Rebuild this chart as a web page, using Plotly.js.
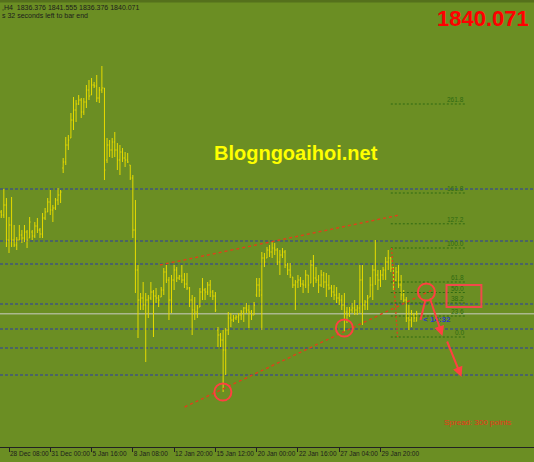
<!DOCTYPE html>
<html>
<head>
<meta charset="utf-8">
<script src="https://cdn.plot.ly/plotly-3.0.1.min.js"></script>
<style>
html,body{margin:0;padding:0;background:#6b8e23;}
#chart{width:534px;height:462px;}
</style>
</head>
<body>
<div id="chart"></div>
<script>
// ---- bar data (H4 bars) ----
const firstBar = -3, lastBar = 158;
const openP = [
1891,1889.5,1894.5,1877,1884.5,1877,1874.5,1877,1879.5,1878,1881,1878,1881,1879,1884,1882,1880,1888,1891,1896,1892,1893,1897,1899.5,
1913,1916,1924.5,1928,1937,1942,1945,1947,1941,1946,1952,1949.5,1954.5,1954,1948,1952,1953,
1917,1924.5,1922,1926,1922,1917,1921,1918,1917,1914.5,
1908,1882,1862,1847,1848,1844.5,1847,1848,1851,1849,
1848,1848.5,1852,1861,1857,1847,1857,1862,1858,1859,
1857,1855,1853,1847,1842,1841,1843.5,1851,1852,1851,
1854.5,1851,1849,1832,1829.5,1827,1822,1832,1838,1837,
1838,1838.5,1839.5,1841,1843,1842,1841,1839.5,1849.5,1854.5,
1849.5,1868,1868,1872,1871,1873,1872,1866,1869.5,1871,
1864.5,1862,1858.5,1854.5,1856,1857,1855,1854.5,1859.5,1855.5,
1864.5,1858,1857,1854.5,1859.5,1856,1854.5,1853,1851,1849.5,
1848,1847,1844.5,1841,1839.5,1842,1843,1842,1843,1857,
1844.5,1846,1848.5,1854.5,1862,1859.5,1857,1859.5,1862,1866,
1868,1863,1857,1861,1854.5,1849.5,1847,1838,1837,1839.5,1836.376];
const highP = [
1892,1902.5,1898,1888.5,1898.5,1884.5,1878.5,1884.5,1882,1884.5,1882,1888.5,1882,1886,1888,1883,1890.5,1893,1898,1902,1894.5,1898,1903,1902,
1918,1928.5,1929.5,1940.5,1948.5,1947,1949.5,1948,1948,1954.5,1957,1958,1956,1959.5,1953.5,1964,1953,
1928,1927,1928,1931,1925.5,1924.5,1923,1921,1920.5,1914.5,
1909.5,1897,1864.5,1850.5,1856,1850.5,1849.5,1856,1852,1853,
1849.5,1853.5,1863,1864.5,1858.5,1859.5,1864.5,1863.5,1859.5,1864.5,
1860.5,1860.5,1853.5,1849.5,1848.5,1844.5,1853,1858,1853,1856,
1857,1852,1851,1833.5,1830.5,1832,1833,1841,1840.5,1839.5,
1839.5,1840.5,1842,1843.5,1845.5,1844.5,1842,1846,1858,1858,
1871,1870.5,1873.5,1874.5,1876,1875.5,1873,1872,1873,1872,
1865.5,1865.5,1858.5,1857,1859.5,1858.5,1857,1862,1859.5,1867,
1869.5,1863.5,1859.5,1862,1861,1860.5,1859.5,1854.5,1854.5,1853.5,
1850.5,1849.5,1850.5,1843.5,1843.5,1845.5,1847,1844.5,1864.5,1864.5,
1847,1849.5,1858.5,1864.5,1877,1862,1862,1863.5,1868.5,1872,
1868.5,1863.5,1863.5,1864.5,1859.5,1852,1848.5,1844.5,1842,1840.5,1841.555];
const lowP = [
1888,1888,1873.5,1870.5,1873.5,1873.5,1872,1877,1875.5,1876,1873,1878,1877,1878,1880.5,1878,1878,1887,1891,1889.5,1886,1892,1894.5,1895.5,
1910.5,1914.5,1922,1928,1932,1936,1944.5,1938,1939.5,1943,1947,1949.5,1953,1946,1945.5,1950.5,1907,
1915.5,1918.5,1918,1918.5,1912,1909.5,1916,1913.5,1915.5,1907,
1878,1850.5,1828,1842,1842,1816,1838,1847,1828.5,1845.5,
1843.5,1848.5,1849.5,1855.5,1837,1840.5,1852,1856,1857,1855.5,
1853,1852,1843.5,1829.5,1837,1838,1843.5,1847,1847,1849.5,
1848.5,1847,1841,1823.5,1823.5,1801,1809.5,1829.5,1833.5,1836,
1837,1835.5,1837,1836,1840.5,1833,1837,1839.5,1848.5,1848.5,
1832,1863.5,1868,1868.5,1868,1869.5,1864.5,1859.5,1868,1863,
1859.5,1858,1853,1842,1853,1853.5,1850.5,1853,1850.5,1855.5,
1853.5,1855.5,1850.5,1853.5,1853,1848.5,1852,1848.5,1847,1845.5,
1844.5,1842,1831,1835.5,1838.5,1840.5,1839.5,1839.5,1840.5,1834.5,
1842,1842,1848.5,1847,1854.5,1852,1853.5,1857,1857,1862,
1861,1852,1856,1853,1847,1845.5,1836,1832,1833.5,1836,1836.376];
const closeP = [
1889.5,1894.5,1877,1884.5,1877,1874.5,1877,1879.5,1878,1881,1877,1886,1879,1884,1882,1880,1888,1891,1896,1892,1893,1897,1899.5,1901,
1916,1924.5,1927,1937,1942,1945,1947,1941,1946,1952,1949,1954.5,1954,1948,1952,1953,1912,
1924.5,1922,1926,1922,1917,1921,1918,1917,1916,1908,
1882,1862,1847,1848,1844.5,1847,1848,1851,1849,1848,
1847,1852,1861,1857,1847,1857,1862,1858,1859,1857,
1855,1853,1847,1842,1841,1843,1851,1852,1851,1854.5,
1851,1849,1842,1829.5,1827,1822,1832,1838,1837,1838,
1838.5,1839.5,1841,1843,1842,1841,1839.5,1844.5,1854.5,1852,
1868,1866,1872,1871,1873,1872,1866,1869.5,1871,1864.5,
1862,1859.5,1854.5,1856,1857,1855,1854.5,1859.5,1854.5,1864.5,
1858,1857,1854.5,1859.5,1856,1854.5,1853,1851,1849.5,1848,
1847,1844.5,1841,1839.5,1842,1843,1842,1843,1857,1844.5,
1846,1848,1854.5,1862,1859.5,1857,1859.5,1862,1866,1868,
1863,1857,1861,1854.5,1849.5,1847,1838,1837,1839.5,1838,1840.071];

// ---- axis labels ----
const tickPositions = [0,16,32,48,64,80,96,112,128,144];
const tickLabels = ["28 Dec 08:00","31 Dec 00:00","5 Jan 16:00","8 Jan 08:00","12 Jan 20:00",
                    "15 Jan 12:00","20 Jan 00:00","22 Jan 16:00","27 Jan 04:00","29 Jan 20:00"];

// ---- horizontal levels and drawings (price units / bar units) ----
const blueLevels = [1902.5, 1876.5, 1865, 1845, 1832.5, 1823, 1809.5];
const bidPrice = 1840.071;
const fibLevels = [0, 23.6, 38.2, 50, 61.8, 100, 127.2, 161.8, 261.8];
const fibLabels = ["0.0","23.6","38.2","50.0","61.8","100.0","127.2","161.8","261.8"];
const fibZero = 1828.5, fibHundred = 1873;
const fibBarStart = 148, fibBarEnd = 177.3;
const fibAnchorBars = [148.3, 150.6];
const lowerTrend = {bars:[68.1,164.1], prices:[1793.5,1852]};
const upperTrend = {bars:[58.5,151.4], prices:[1864.5,1889.5]};
const circleBars = [82.9, 130, 161.8];
const circlePrices = [1801, 1833, 1851];
const boxBars = [169.6, 183.1], boxPrices = [1843.5, 1854.5];
const arrowTails = [[163.0,1848.5],[169.6,1827]];
const arrowHeads = [[168.0,1829],[175.4,1808.5]];
const circleTail = [[161.4,1847],[159.5,1837]];

const barIdx = [];
for (let i = firstBar; i <= lastBar; i++) barIdx.push(i);

const yellow = '#e6da00';
const trace = {
  type: 'ohlc', x: barIdx, open: openP, high: highP, low: lowP, close: closeP,
  increasing: {line: {color: yellow, width: 1}},
  decreasing: {line: {color: yellow, width: 1}},
  tickwidth: 0.35, hoverinfo: 'skip'
};

const H = 447; // plot height in px
const shapes = [];
shapes.push({type:'rect', xref:'paper', yref:'paper', x0:0, x1:1, y0:(H-2.5)/H, y1:1,
  fillcolor:'#55701c', line:{width:0}, layer:'below'});
blueLevels.forEach(v => shapes.push({type:'line', xref:'paper', x0:0, x1:1, yref:'y', y0:v, y1:v,
  line:{color:'#2c3aa8', width:1, dash:'3px,2px'}, layer:'below'}));
shapes.push({type:'line', xref:'paper', x0:0, x1:1, yref:'y', y0:bidPrice, y1:bidPrice,
  line:{color:'rgba(192,198,178,0.75)', width:1.5}, layer:'below'});
fibLevels.forEach(l => {
  const v = fibZero + (fibHundred - fibZero) * l / 100;
  shapes.push({type:'line', xref:'x', yref:'y', x0:fibBarStart, x1:fibBarEnd, y0:v, y1:v,
    line:{color:'#2f6a12', width:1, dash:'2px,2px'}});
});
shapes.push({type:'line', xref:'x', yref:'y', x0:fibAnchorBars[0], x1:fibAnchorBars[1], y0:fibHundred, y1:fibZero,
  line:{color:'#e0401a', width:1.3, dash:'2px,2px'}});
[lowerTrend, upperTrend].forEach(t => shapes.push({type:'line', xref:'x', yref:'y',
  x0:t.bars[0], x1:t.bars[1], y0:t.prices[0], y1:t.prices[1],
  line:{color:'#e0401a', width:1.4, dash:'3px,3px'}}));
circleBars.forEach((b, i) => shapes.push({type:'circle', xref:'x', yref:'y',
  x0:b-3.3, x1:b+3.3, y0:circlePrices[i]-4.3, y1:circlePrices[i]+4.3,
  line:{color:'#ff4040', width:2}}));
shapes.push({type:'rect', xref:'x', yref:'y', x0:boxBars[0], x1:boxBars[1], y0:boxPrices[0], y1:boxPrices[1],
  line:{color:'#f04a4a', width:2}});
shapes.push({type:'line', xref:'x', yref:'y', x0:circleTail[0][0], y0:circleTail[0][1],
  x1:circleTail[1][0], y1:circleTail[1][1], line:{color:'#ff4040', width:2}});

const annotations = [];
const pY = py => (H - py) / H;
annotations.push({xref:'paper', yref:'paper', x:0, y:pY(7), xanchor:'left', yanchor:'middle', showarrow:false,
  text:',H4  1836.376 1841.555 1836.376 1840.071', font:{family:'Liberation Sans', size:7, color:'#1c1c1c'}});
annotations.push({xref:'paper', yref:'paper', x:0, y:pY(15.5), xanchor:'left', yanchor:'middle', showarrow:false,
  text:'s 32 seconds left to bar end', font:{family:'Liberation Sans', size:7, color:'#1c1c1c'}});
annotations.push({xref:'paper', yref:'paper', x:531/534, y:pY(19), xanchor:'right', yanchor:'middle', showarrow:false,
  text:'<b>1840.071</b>', font:{family:'Liberation Sans', size:22, color:'#ff0000'}});
annotations.push({xref:'paper', yref:'paper', x:296/534, y:pY(153), xanchor:'center', yanchor:'middle', showarrow:false,
  text:'<b>Blogngoaihoi.net</b>', font:{family:'Liberation Sans', size:20, color:'#ffff00'}});
annotations.push({xref:'paper', yref:'paper', x:477/534, y:pY(422), xanchor:'center', yanchor:'middle', showarrow:false,
  text:'Spread: 300 points', font:{family:'Liberation Sans', size:8, color:'#e8361a'}});
annotations.push({xref:'paper', yref:'paper', x:421/534, y:pY(319), xanchor:'left', yanchor:'middle', showarrow:false,
  text:'<b>&lt; 14:32</b>', font:{family:'Liberation Sans', size:8, color:'#2a3cc8'}});
fibLevels.forEach((l, i) => {
  const v = fibZero + (fibHundred - fibZero) * l / 100;
  annotations.push({xref:'x', yref:'y', x:fibBarEnd, y:v, xanchor:'right', yanchor:'bottom', showarrow:false,
    yshift:-1, text:fibLabels[i], font:{family:'Liberation Sans', size:6.5, color:'#2f6a12'}});
});
arrowTails.forEach((t, i) => annotations.push({xref:'x', yref:'y', axref:'x', ayref:'y',
  x:arrowHeads[i][0], y:arrowHeads[i][1], ax:t[0], ay:t[1], text:'', showarrow:true,
  arrowhead:2, arrowsize:1, arrowwidth:2, arrowcolor:'#ff4040'}));

const layout = {
  width:534, height:462,
  margin:{l:0, r:0, t:0, b:15, pad:0},
  paper_bgcolor:'#6b8e23', plot_bgcolor:'#6b8e23',
  showlegend:false,
  xaxis:{range:[-3.49, 203.5], tickvals:tickPositions, ticktext:tickLabels,
    ticks:'outside', ticklen:4, tickcolor:'#222', showline:true, linecolor:'#222', linewidth:1,
    ticklabelposition:'outside right', tickangle:0,
    tickfont:{family:'Liberation Sans', size:6.5, color:'#1c1c1c'},
    showgrid:false, zeroline:false, rangeslider:{visible:false}, fixedrange:true},
  yaxis:{range:[1773.5, 1997], showticklabels:false, showgrid:false, zeroline:false, showline:false,
    ticks:'', fixedrange:true},
  shapes:shapes, annotations:annotations
};
Plotly.newPlot('chart', [trace], layout, {displayModeBar:false, staticPlot:true});
</script>
</body>
</html>
